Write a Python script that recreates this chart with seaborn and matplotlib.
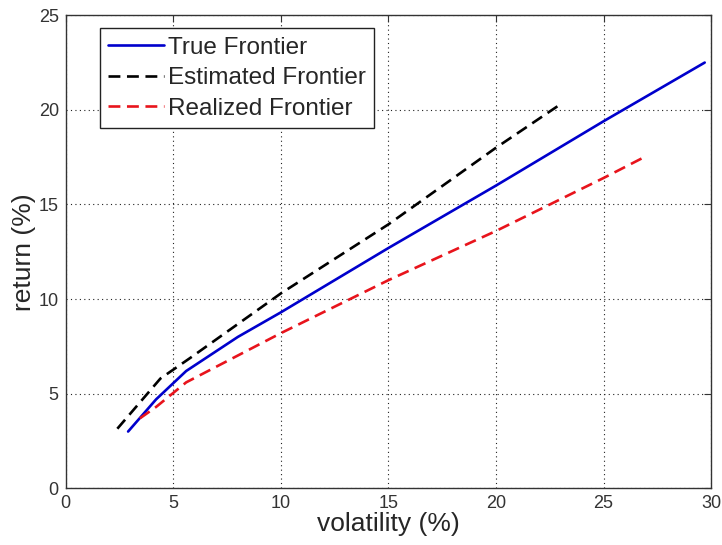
import pandas as pd
import seaborn as sns
import matplotlib.pyplot as plt

# values
true_vol = [2.9, 4.2, 5.6, 8.0, 10.0, 15.0, 20.0, 25.0, 29.7]
true_ret = [3.0, 4.7, 6.2, 8.0, 9.3, 12.7, 16.0, 19.4, 22.5]

est_vol = [2.4, 4.4, 5.8, 10.0, 15.0, 20.0, 23.0]
est_ret = [3.15, 5.8, 6.9, 10.3, 13.95, 18.0, 20.3]

real_vol = [3.45, 4.2, 5.6, 10.0, 15.0, 20.0, 25.0, 26.8]
real_ret = [3.7, 4.3, 5.6, 8.2, 11.0, 13.6, 16.4, 17.45]

labels = ["True Frontier", "Estimated Frontier", "Realized Frontier"]
colors = ["#0000cc", "#000000", "#e8141c"]

x_ticks = [0, 5, 10, 15, 20, 25, 30]
y_ticks = [0, 5, 10, 15, 20, 25]

df = pd.concat([
    pd.DataFrame({"vol": true_vol, "ret": true_ret, "series": labels[0]}),
    pd.DataFrame({"vol": est_vol, "ret": est_ret, "series": labels[1]}),
    pd.DataFrame({"vol": real_vol, "ret": real_ret, "series": labels[2]}),
])

sns.set_style("white")
plt.rcParams['font.family'] = ['Liberation Sans', 'DejaVu Sans']

fig = plt.figure(figsize=(7.22, 5.45), dpi=100)
ax = fig.add_axes([0.091, 0.104, 0.894, 0.868])

sns.lineplot(data=df, x="vol", y="ret", hue="series", style="series",
             palette=dict(zip(labels, colors)),
             dashes={labels[0]: "", labels[1]: (4.5, 2.5), labels[2]: (4.5, 2.5)},
             linewidth=1.9, sort=False, estimator=None, ax=ax)

ax.set_xlim(0, 30)
ax.set_ylim(0, 25)
ax.set_xticks(x_ticks)
ax.set_yticks(y_ticks)
ax.grid(True, linestyle=(0, (1, 3)), color="#222222", linewidth=0.8)
ax.tick_params(direction="in", top=True, right=True, length=5, width=0.8,
               labelsize=13, labelcolor="#333333", color="#333333", pad=5)
for s in ax.spines.values():
    s.set_color("#333333")
    s.set_linewidth(1.0)

ax.set_xlabel("volatility (%)", fontsize=19, labelpad=0)
ax.set_ylabel("return (%)", fontsize=19, labelpad=2)

leg = ax.legend(loc="upper left", bbox_to_anchor=(0.053, 0.973), fontsize=17.5,
                frameon=True, fancybox=False, framealpha=1, edgecolor="#222222",
                handlelength=2.3, handletextpad=0.15, borderpad=0.35, labelspacing=0.35,
                borderaxespad=0)
leg.get_frame().set_linewidth(1.0)

fig.savefig("out.png", dpi=100)
